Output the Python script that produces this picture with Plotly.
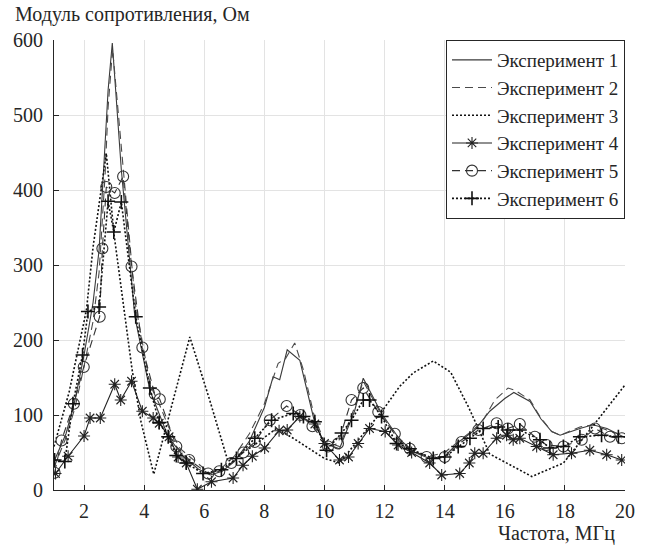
import plotly.graph_objects as go

# ---- data (frequency, MHz ; impedance modulus, Ohm) ----
x1 = [1.0, 1.4, 1.7, 2.0, 2.3, 2.5, 2.8, 2.94, 3.24, 3.69, 4.19, 4.8, 5.3, 5.8, 6.2, 6.6, 7.0, 7.5, 8.0,
      8.29, 8.51, 8.76, 9.18, 9.68, 10.01, 10.5, 11.0, 11.29, 11.9, 12.51, 13.0, 13.5, 14.0, 14.5, 15.0,
      15.5, 16.0, 16.3, 16.84, 17.2, 17.56, 17.84, 18.5, 18.93, 19.4, 20.0]
y1 = [38, 75, 120, 180, 250, 320, 533, 596, 427, 231, 133, 71, 45, 28, 20, 25, 38, 65, 110,
      151, 147, 187, 173, 89, 62, 55, 105, 149, 102, 67, 50, 42, 45, 65, 80,
      105, 122, 130, 118, 95, 78, 73, 82, 87, 82, 70]

x2 = [1.0, 1.4, 1.7, 2.0, 2.3, 2.5, 2.7, 2.8, 2.95, 3.1, 3.3, 3.7, 4.2, 4.5, 4.8, 5.2, 5.8, 6.2, 6.6, 7.0,
      7.5, 8.0, 8.46, 8.7, 9.01, 9.3, 9.68, 10.0, 10.5, 11.0, 11.29, 11.9, 12.5, 13.0, 13.5, 14.0, 14.5,
      15.0, 15.28, 15.67, 16.11, 16.34, 16.84, 17.17, 17.56, 17.84, 18.5, 18.93, 19.39, 19.93]
y2 = [30, 70, 110, 165, 225, 290, 420, 510, 588, 520, 420, 250, 140, 115, 85, 55, 35, 22, 30, 45,
      75, 115, 169, 175, 196, 160, 95, 65, 58, 110, 145, 100, 65, 50, 45, 50, 66,
      82, 93, 120, 136, 133, 120, 98, 78, 73, 84, 87, 80, 73]

x3 = [1.0, 1.5, 2.08, 2.3, 2.74, 3.0, 3.3, 3.6, 3.9, 4.32, 4.9, 5.52, 6.18, 6.63, 6.79, 7.6, 8.4, 9.0,
      10.0, 10.5, 11.2, 11.95, 12.5, 12.95, 13.62, 14.2, 14.8, 15.5, 16.9, 17.95, 18.83, 20.0]
y3 = [58, 130, 240, 324, 449, 340, 250, 160, 90, 21, 110, 204, 120, 58, 38, 58, 82, 68,
      42, 36, 70, 107, 138, 156, 172, 157, 110, 48, 18, 36, 80, 140]

x4 = [1.05, 1.47, 2.0, 2.2, 2.54, 3.02, 3.22, 3.58, 3.94, 4.3, 4.5, 4.83, 5.13, 5.4, 5.77, 6.24, 6.96,
      7.29, 7.6, 8.01, 8.49, 8.76, 9.18, 9.68, 10.0, 10.5, 10.8, 11.12, 11.5, 12.02, 12.45, 12.9, 13.5,
      13.9, 14.5, 14.82, 15.0, 15.28, 15.73, 16.06, 16.28, 16.5, 17.06, 17.61, 18.22, 18.83, 19.39, 19.89]
y4 = [22, 45, 72, 96, 96, 141, 120, 145, 105, 96, 89, 71, 44, 36, 1, 11, 16,
      33, 45, 56, 79, 80, 98, 88, 62, 40, 44, 62, 82, 78, 60, 50, 36,
      20, 22, 36, 49, 49, 69, 73, 67, 69, 58, 47, 49, 53, 47, 40]

x5 = [1.02, 1.25, 1.66, 1.99, 2.52, 2.61, 2.74, 3.02, 3.3, 3.58, 3.94, 4.35, 4.52, 5.07, 5.5, 6.13, 6.5,
      6.9, 7.3, 7.68, 8.18, 8.74, 9.2, 9.6, 10.12, 10.45, 10.9, 11.29, 11.79, 12.34, 12.84, 13.4, 14.0,
      14.56, 15.12, 15.73, 16.1, 16.5, 17.0, 17.39, 17.95, 18.56, 19.0, 19.5, 19.89]
y5 = [23, 66, 115, 164, 231, 322, 404, 396, 418, 298, 190, 128, 121, 58, 40, 22, 25,
      36, 50, 64, 93, 112, 100, 85, 58, 62, 120, 136, 104, 75, 55, 44, 44,
      64, 80, 89, 82, 88, 71, 60, 58, 67, 82, 71, 69]

x6 = [1.02, 1.36, 1.63, 1.95, 2.13, 2.5, 2.8, 2.99, 3.24, 3.72, 4.19, 4.5, 4.8, 5.07, 5.4, 5.96, 6.57,
      7.07, 7.68, 8.24, 8.96, 9.3, 9.68, 10.07, 10.57, 10.9, 11.29, 11.5, 11.9, 12.4, 12.84, 13.62, 14.0,
      14.45, 14.84, 15.28, 15.78, 16.1, 16.5, 17.17, 17.5, 17.95, 18.5, 19.22, 19.78]
y6 = [40, 38, 115, 180, 238, 244, 385, 344, 384, 231, 136, 90, 71, 46, 36, 22, 27,
      42, 69, 93, 102, 98, 91, 53, 76, 93, 120, 120, 98, 62, 55, 42, 44,
      58, 69, 82, 84, 80, 80, 67, 56, 58, 71, 73, 71]

names = ["Эксперимент 1", "Эксперимент 2", "Эксперимент 3",
         "Эксперимент 4", "Эксперимент 5", "Эксперимент 6"]
x_ticks = [2, 4, 6, 8, 10, 12, 14, 16, 18, 20]
y_ticks = [0, 100, 200, 300, 400, 500, 600]

FONT = "Liberation Serif"
TXT = "#262626"

fig = go.Figure()
fig.add_trace(go.Scatter(x=x1, y=y1, name=names[0], mode="lines",
                         line=dict(color="#3a3a3a", width=1.1)))
fig.add_trace(go.Scatter(x=x2, y=y2, name=names[1], mode="lines",
                         line=dict(color="#4a4a4a", width=1.1, dash="8px,5px")))
fig.add_trace(go.Scatter(x=x3, y=y3, name=names[2], mode="lines",
                         line=dict(color="#111111", width=1.6, dash="2px,2px")))
fig.add_trace(go.Scatter(x=x4, y=y4, name=names[3], mode="lines+markers",
                         line=dict(color="#222222", width=1.1),
                         marker=dict(symbol="asterisk-open", size=10,
                                     line=dict(color="#222222", width=1.1))))
fig.add_trace(go.Scatter(x=x5, y=y5, name=names[4], mode="lines+markers",
                         line=dict(color="#333333", width=1.1, dash="8px,5px"),
                         marker=dict(symbol="circle-open", size=11,
                                     line=dict(color="#333333", width=1.1))))
fig.add_trace(go.Scatter(x=x6, y=y6, name=names[5], mode="lines+markers",
                         line=dict(color="#111111", width=1.6, dash="2px,2px"),
                         marker=dict(symbol="cross-thin-open", size=10,
                                     line=dict(color="#111111", width=1.6))))

axis_common = dict(
    showgrid=True, gridcolor="#e3e3e3", gridwidth=1,
    showline=True, linecolor=TXT, linewidth=1,
    ticks="inside", ticklen=5, tickcolor=TXT, tickwidth=1,
    tickfont=dict(family=FONT, size=20, color=TXT),
    zeroline=False, mirror=False,
)

fig.update_layout(
    width=647, height=545,
    margin=dict(l=54, r=22, t=40, b=55),
    paper_bgcolor="white", plot_bgcolor="white",
    font=dict(family=FONT, size=20, color=TXT),
    showlegend=True,
    legend=dict(x=1, y=1, xanchor="right", yanchor="top",
                bgcolor="white", bordercolor=TXT, borderwidth=1,
                font=dict(family=FONT, size=19, color=TXT),
                tracegroupgap=0, itemwidth=40),
    xaxis=dict(range=[1, 20], tickvals=x_ticks, ticklabelstandoff=3, **axis_common),
    yaxis=dict(range=[0, 600], tickvals=y_ticks, ticklabelstandoff=6, **axis_common),
    annotations=[
        dict(text="Модуль сопротивления, Ом", xref="paper", yref="paper",
             x=(13 - 54) / 571, y=(490 - 15) / 450, xanchor="left", yanchor="middle",
             showarrow=False, font=dict(family=FONT, size=20, color=TXT)),
        dict(text="Частота, МГц", xref="paper", yref="paper",
             x=(617 - 54) / 571, y=(490 - 533) / 450, xanchor="right", yanchor="middle",
             showarrow=False, font=dict(family=FONT, size=20, color=TXT)),
    ],
)

# make sure the serif face is applied to every text node after drawing
post = """
var gd = document.getElementById('{plot_id}');
function serifFix(){
  gd.querySelectorAll('text').forEach(function(t){
    t.style.setProperty('font-family', 'Liberation Serif', 'important');
  });
}
serifFix();
if (gd.on) { gd.on('plotly_afterplot', serifFix); }
"""

fig.write_html("out.html", post_script=post)
